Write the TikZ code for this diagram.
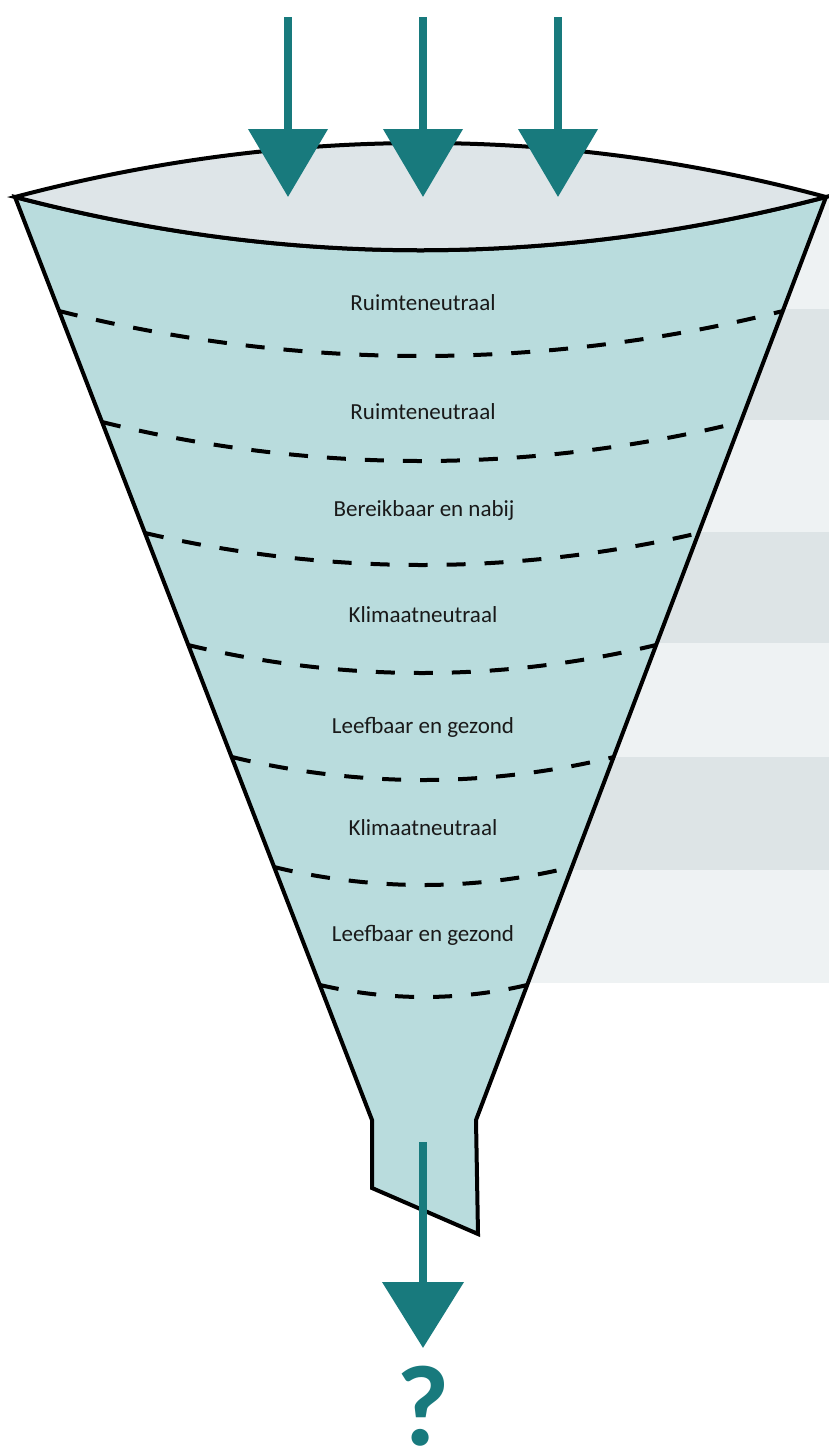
\documentclass[tikz,border=0pt]{standalone}
\usepackage{fontspec}
\setmainfont{Carlito}
\usepackage{tikz}
\usetikzlibrary{arrows.meta}
\definecolor{flowteal}{HTML}{187A7D}
\definecolor{funnelfill}{HTML}{B9DCDD}
\definecolor{lensfill}{HTML}{DEE5E8}
\definecolor{banddark}{HTML}{DDE4E6}
\definecolor{bandlight}{HTML}{EEF2F3}

\begin{document}
\begin{tikzpicture}[x=1pt,y=-1pt,
    inflow/.style={draw=flowteal,line width=8pt,-{Triangle[width=78pt,length=68pt]}},
    outflow/.style={draw=flowteal,line width=8pt,-{Triangle[width=80pt,length=66pt]}},
    rim/.style={draw=black,line width=4pt,line join=miter},
    layerline/.style={draw=black,line width=4pt,dash pattern=on 19pt off 19pt},
    layerlabel/.style={font=\fontsize{23}{26}\selectfont,text=black!90}]
          \useasboundingbox (0,0) rectangle (829,1454);
          % bands behind the funnel
          \fill[bandlight] (423,197) rectangle (829,309);
          \fill[banddark] (423,309) rectangle (829,420);
          \fill[bandlight] (423,420) rectangle (829,532);
          \fill[banddark] (423,532) rectangle (829,643);
          \fill[bandlight] (423,643) rectangle (829,757);
          \fill[banddark] (423,757) rectangle (829,870);
          \fill[bandlight] (423,870) rectangle (829,983);
          % funnel body
          \coordinate (rimL) at (15,197);
          \coordinate (rimR) at (826,197);
          \filldraw[rim,fill=funnelfill] (rimL) -- (372,1120) -- (372,1188) -- (478,1234)
            -- (476,1120) -- (rimR) .. controls (554,268) and (287,268) .. (rimL) -- cycle;
          % layers
          \draw[layerline] (59,311) parabola bend (421,356) (783,311);
          \draw[layerline] (102,422) parabola bend (421,461) (741,422);
          \draw[layerline] (145,533) parabola bend (422,565) (699,533);
          \draw[layerline] (188,645) parabola bend (422,673) (656,645);
          \draw[layerline] (232,757) parabola bend (423,780) (614,757);
          \draw[layerline] (274,867) parabola bend (423,885) (572,867);
          \draw[layerline] (320,985) parabola bend (424,997) (527,985);
          \node[layerlabel] (lay1) at (423,303) {Ruimteneutraal};
          \node[layerlabel] (lay2) at (423,412) {Ruimteneutraal};
          \node[layerlabel] (lay3) at (424,510) {Bereikbaar en nabij};
          \node[layerlabel] (lay4) at (423,615) {Klimaatneutraal};
          \node[layerlabel] (lay5) at (423,727) {Leefbaar en gezond};
          \node[layerlabel] (lay6) at (423,828) {Klimaatneutraal};
          \node[layerlabel] (lay7) at (423,935) {Leefbaar en gezond};
          % opening
          \filldraw[rim,fill=lensfill] (rimL) .. controls (287,125) and (559,125) .. (rimR)
            .. controls (554,268) and (287,268) .. (rimL) -- cycle;
          % inputs
          \coordinate (in1) at (288,17);
          \coordinate (in2) at (423,17);
          \coordinate (in3) at (558,17);
          \coordinate (drop1) at (288,197);
          \coordinate (drop2) at (423,197);
          \coordinate (drop3) at (558,197);
          \draw[inflow] (in1) -- (drop1);
          \draw[inflow] (in2) -- (drop2);
          \draw[inflow] (in3) -- (drop3);
          % output
          \coordinate (spout) at (423,1142);
          \node[anchor=base,text=flowteal,font=\fontsize{115}{115}\bfseries,inner sep=0pt]
            (result) at (423,1445) {?};
          \coordinate (outtip) at (423,1348);
          \draw[outflow] (spout) -- (outtip);
        \end{tikzpicture}
\end{document}
